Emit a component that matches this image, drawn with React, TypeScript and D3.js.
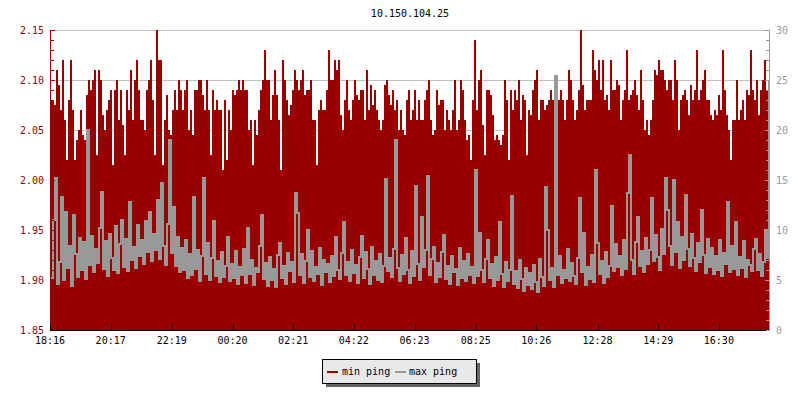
import React from "react";
import * as d3 from "d3";

const title = "10.150.104.25";
const startTime = "18:16";
const timeSpanMinutes = 1436;
const xTickLabels = ["18:16", "20:17", "22:19", "00:20", "02:21", "04:22", "06:23", "08:25", "10:26", "12:28", "14:29", "16:30"];
const leftTicks = [1.85, 1.9, 1.95, 2.0, 2.05, 2.1, 2.15];
const rightTicks = [0, 5, 10, 15, 20, 25, 30];
const seriesNames = ["min ping", "max ping"];

const minPing = [
  2.08, 2.08, 2.075, 2.11, 2.095, 2.07, 2.12, 2.06, 2.02, 2.08,
  2.12, 2.07, 2.02, 2.04, 2.05, 2.07, 2.045, 2.04, 2.085, 2.10,
  2.09, 2.10, 2.11, 2.025, 2.11, 2.10, 2.065, 2.05, 2.07, 2.08,
  2.09, 2.015, 2.09, 2.10, 2.06, 2.09, 2.055, 2.025, 2.09, 2.07,
  2.11, 2.06, 2.10, 2.12, 2.09, 2.06, 2.06, 2.05, 2.09, 2.10,
  2.12, 2.08, 2.025, 2.15, 2.12, 2.12, 2.015, 2.06, 2.085, 2.05,
  2.045, 2.07, 2.09, 2.07, 2.10, 2.09, 2.07, 2.09, 2.10, 2.05,
  2.07, 2.045, 2.09, 2.09, 2.10, 2.10, 2.085, 2.07, 2.10, 2.07,
  2.025, 2.09, 2.07, 2.08, 2.07, 2.07, 2.01, 2.08, 2.02, 2.07,
  2.05, 2.09, 2.085, 2.09, 2.10, 2.09, 2.10, 2.09, 2.09, 2.05,
  2.06, 2.015, 2.06, 2.045, 2.07, 2.09, 2.10, 2.13, 2.10, 2.10,
  2.06, 2.085, 2.11, 2.085, 2.06, 2.01, 2.12, 2.10, 2.08, 2.065,
  2.075, 2.09, 2.11, 2.10, 2.09, 2.10, 2.11, 2.085, 2.09, 2.09,
  2.10, 2.06, 2.06, 2.015, 2.07, 2.08, 2.07, 2.07, 2.09, 2.13,
  2.10, 2.10, 2.12, 2.11, 2.12, 2.065, 2.05, 2.08, 2.10, 2.07,
  2.06, 2.08, 2.10, 2.085, 2.08, 2.09, 2.09, 2.06, 2.11, 2.07,
  2.095, 2.075, 2.09, 2.07, 2.06, 2.05, 2.06, 2.095, 2.10, 2.085,
  2.075, 2.09, 2.07, 2.08, 2.05, 2.07, 2.05, 2.045, 2.08, 2.09,
  2.06, 2.07, 2.09, 2.06, 2.08, 2.06, 2.06, 2.08, 2.09, 2.10,
  2.06, 2.045, 2.05, 2.09, 2.075, 2.08, 2.08, 2.05, 2.07, 2.06,
  2.05, 2.07, 2.10, 2.05, 2.06, 2.10, 2.09, 2.06, 2.04, 2.045,
  2.02, 2.08, 2.14, 2.07, 2.10, 2.11, 2.055, 2.025, 2.09, 2.09,
  2.085, 2.065, 2.04, 2.045, 2.04, 2.035, 2.045, 2.10, 2.08, 2.02,
  2.09, 2.07, 2.09, 2.08, 2.10, 2.06, 2.085, 2.08, 2.025, 2.07,
  2.065, 2.09, 2.10, 2.11, 2.06, 2.08, 2.08, 2.07, 2.075, 2.08,
  2.09, 2.08, 2.08, 2.075, 2.08, 2.09, 2.08, 2.06, 2.08, 2.11,
  2.10, 2.08, 2.06, 2.07, 2.09, 2.15, 2.095, 2.07, 2.08, 2.08,
  2.08, 2.13, 2.11, 2.10, 2.12, 2.09, 2.12, 2.08, 2.085, 2.07,
  2.12, 2.09, 2.09, 2.10, 2.095, 2.06, 2.08, 2.09, 2.13, 2.08,
  2.085, 2.09, 2.10, 2.085, 2.07, 2.11, 2.08, 2.05, 2.06, 2.045,
  2.06, 2.08, 2.11, 2.105, 2.12, 2.11, 2.11, 2.10, 2.09, 2.10,
  2.10, 2.08, 2.12, 2.10, 2.05, 2.08, 2.085, 2.09, 2.08, 2.065,
  2.095, 2.08, 2.09, 2.13, 2.08, 2.09, 2.10, 2.11, 2.08, 2.08,
  2.065, 2.06, 2.07, 2.065, 2.085, 2.07, 2.13, 2.09, 2.065, 2.05,
  2.02, 2.06, 2.06, 2.10, 2.06, 2.07, 2.08, 2.06, 2.09, 2.085,
  2.13, 2.09, 2.08, 2.10, 2.065, 2.09, 2.10, 2.12, 2.09, 2.08,
];

const maxPing = [
  5.2, 11.0, 15.2, 4.6, 6.8, 13.3, 5.0, 11.8, 6.2, 8.4,
  4.4, 11.5, 7.6, 5.3, 9.2, 6.0, 8.8, 5.1, 20.0, 6.5,
  9.4, 5.8, 8.1, 6.7, 10.2, 13.8, 6.1, 8.9, 5.4, 9.6,
  7.2, 6.0, 10.4, 5.7, 8.6, 11.0, 6.3, 9.1, 5.9, 12.8,
  7.0, 8.3, 6.2, 10.5, 7.4, 9.0, 6.6, 10.9, 7.8, 11.8,
  6.9, 9.6, 8.0, 13.0, 7.1, 14.7, 8.4, 6.5, 10.6, 19.0,
  7.7, 12.3, 6.4, 9.3, 5.8, 8.2, 6.0, 9.0, 5.2, 7.6,
  5.5, 13.3, 6.1, 8.0, 4.9, 7.4, 15.2, 5.6, 8.7, 5.0,
  7.2, 10.9, 5.4, 6.9, 4.8, 7.8, 5.3, 6.4, 9.3, 4.9,
  6.6, 5.2, 7.9, 4.6, 6.3, 5.5, 8.1, 4.7, 10.2, 5.6,
  7.0, 4.5, 6.2, 5.8, 8.4, 11.5, 5.1, 6.7, 4.4, 7.3,
  5.0, 6.1, 4.3, 7.5, 8.7, 5.2, 6.4, 4.6, 7.7, 5.9,
  6.8, 4.8, 13.7, 11.7, 5.5, 7.6, 4.7, 6.9, 10.0, 5.3,
  7.9, 4.9, 6.3, 5.6, 8.2, 4.5, 7.0, 5.8, 6.6, 4.8,
  7.4, 5.4, 9.3, 6.0, 5.1, 7.7, 10.8, 5.5, 6.8, 4.9,
  8.0, 5.7, 6.5, 4.7, 7.3, 9.4, 5.2, 7.8, 6.1, 4.6,
  8.3, 5.5, 6.9, 5.0, 7.6, 4.8, 6.4, 15.1, 5.9, 7.2,
  5.3, 8.1, 19.0, 6.2, 4.9, 7.5, 5.6, 9.2, 6.0, 4.7,
  7.9, 5.4, 14.4, 6.6, 5.0, 11.3, 6.3, 8.0, 15.4, 5.5,
  7.1, 8.3, 4.8, 6.7, 5.3, 7.8, 9.5, 5.1, 6.4, 4.6,
  7.4, 5.8, 6.1, 4.5, 8.2, 5.2, 6.9, 4.9, 7.6, 5.5,
  6.3, 4.7, 16.0, 5.4, 9.7, 6.0, 4.8, 7.1, 9.0, 5.2,
  6.6, 4.4, 7.3, 5.0, 10.8, 5.6, 4.3, 6.8, 4.9, 6.0,
  13.4, 4.6, 5.9, 4.2, 7.0, 5.1, 3.9, 6.2, 4.5, 5.7,
  4.1, 6.5, 4.8, 3.8, 7.1, 5.3, 4.4, 14.3, 10.0, 5.0,
  6.2, 4.3, 25.4, 5.5, 7.4, 4.7, 6.0, 5.2, 8.1, 4.9,
  6.7, 5.4, 4.6, 7.2, 13.2, 5.8, 9.7, 4.5, 6.3, 5.1,
  7.5, 4.8, 16.0, 8.7, 5.6, 6.9, 4.7, 7.8, 5.3, 6.4,
  12.4, 5.9, 8.6, 6.3, 7.4, 5.5, 9.0, 6.1, 13.7, 17.5,
  7.0, 5.6, 8.8, 11.3, 6.4, 7.9, 5.8, 9.2, 6.6, 8.0,
  13.2, 6.9, 9.5, 7.3, 6.0, 10.1, 7.6, 15.2, 12.0, 8.4,
  6.5, 15.0, 7.8, 10.8, 6.2, 9.3, 7.0, 13.5, 8.1, 6.4,
  9.6, 7.2, 5.9, 8.7, 6.8, 12.0, 7.5, 5.7, 9.1, 6.3,
  8.2, 5.6, 7.4, 6.0, 9.0, 5.4, 7.7, 6.6, 12.8, 5.8,
  8.4, 6.1, 10.8, 5.5, 7.3, 6.2, 8.9, 5.3, 7.0, 6.5,
  5.9, 8.1, 9.1, 6.0, 7.6, 5.4, 6.8, 10.0, 7.2, 25.0,
];

const RED = "#990000";
const GREY = "#999999";
const FONT = "'DejaVu Sans Mono', 'Liberation Mono', monospace";

function toMinutes(s: string) {
  const [h, m] = s.split(":").map(Number);
  return h * 60 + m;
}

export default function App() {
  const W = 800, H = 400;
  const L = 50, R = 770, T = 30, B = 330;
  const n = minPing.length;
  const xIdx = d3.scaleLinear().domain([0, n]).range([L, R]);
  const xTime = d3.scaleLinear().domain([0, timeSpanMinutes]).range([L, R]);
  const yL = d3.scaleLinear().domain([1.85, 2.15]).range([B, T]);
  const yR = d3.scaleLinear().domain([0, 30]).range([B, T]);
  const start = toMinutes(startTime);
  const tickPos = xTickLabels.map((s) => {
    let m = toMinutes(s) - start;
    if (m < 0) m += 1440;
    return xTime(m);
  });
  const leftMinor = d3.range(0, 31).map((k) => 1.85 + k * 0.01);
  const rightMinor = d3.range(0, 31);
  const binW = xIdx(1) - xIdx(0);

  const line = d3
    .line<number>()
    .x((_, i) => xIdx(i) + binW / 2)
    .y((d) => yR(d))
    .curve(d3.curveStepAfter);

  return (
    <svg width={W} height={H} style={{ position: "absolute", left: 0, top: 0, background: "#fff" }} fontFamily={FONT}>
      <rect x={0} y={0} width={W} height={H} fill="#fff" />
      <text x={(L + R) / 2} y={17} textAnchor="middle" fontSize={10} fill="#000">{title}</text>
      {leftTicks.map((t) => (
        <line key={"g" + t} x1={L} x2={R} y1={Math.round(yL(t)) + 0.5} y2={Math.round(yL(t)) + 0.5} stroke="#c0c0c0" strokeWidth={1} />
      ))}
      <g shapeRendering="crispEdges">
        {minPing.map((v, i) => (
          <rect key={i} x={xIdx(i)} width={binW} y={yL(v)} height={B - yL(v)} fill={RED} />
        ))}
      </g>
      <path d={line(maxPing) || ""} fill="none" stroke={GREY} strokeWidth={binW} strokeLinejoin="miter" shapeRendering="crispEdges" />
      {/* left axis */}
      <line x1={L + 0.5} x2={L + 0.5} y1={T} y2={B} stroke={RED} />
      {leftMinor.map((t, k) => (
        <line key={"lm" + k} x1={L} x2={L + (k % 5 === 0 ? 5 : 4)} y1={Math.round(yL(t)) + 0.5} y2={Math.round(yL(t)) + 0.5} stroke={RED} />
      ))}
      {leftTicks.map((t) => (
        <text key={"lt" + t} x={44} y={yL(t) + 4} textAnchor="end" fontSize={10} fill={RED}>{t.toFixed(2)}</text>
      ))}
      {/* right axis */}
      <line x1={R - 0.5} x2={R - 0.5} y1={T} y2={B} stroke={GREY} />
      {rightMinor.map((t) => (
        <line key={"rm" + t} x1={R - (t % 5 === 0 ? 5 : 4)} x2={R} y1={Math.round(yR(t)) + 0.5} y2={Math.round(yR(t)) + 0.5} stroke={GREY} />
      ))}
      {rightTicks.map((t) => (
        <text key={"rt" + t} x={776} y={yR(t) + 4} textAnchor="start" fontSize={10} fill={GREY}>{t}</text>
      ))}
      {/* bottom axis */}
      <line x1={L} x2={R - 4} y1={B + 0.5} y2={B + 0.5} stroke="#000" />
      {xTickLabels.map((s, i) => (
        <g key={"xt" + s}>
          <line x1={Math.round(tickPos[i]) + 0.5} x2={Math.round(tickPos[i]) + 0.5} y1={B - 5} y2={B} stroke="#000" />
          <text x={tickPos[i]} y={344} textAnchor="middle" fontSize={10} fill="#000">{s}</text>
        </g>
      ))}
      {/* legend */}
      <rect x={326} y={363} width={154} height={24} fill="#666" />
      <rect x={322.5} y={359.5} width={154} height={24} fill="#e8e8e8" stroke="#000" />
      <line x1={327} x2={338} y1={372} y2={372} stroke={RED} strokeWidth={2} />
      <text x={342} y={375} fontSize={10} fill="#000">{seriesNames[0]}</text>
      <line x1={395} x2={406} y1={372} y2={372} stroke={GREY} strokeWidth={2} />
      <text x={409} y={375} fontSize={10} fill="#000">{seriesNames[1]}</text>
    </svg>
  );
}
